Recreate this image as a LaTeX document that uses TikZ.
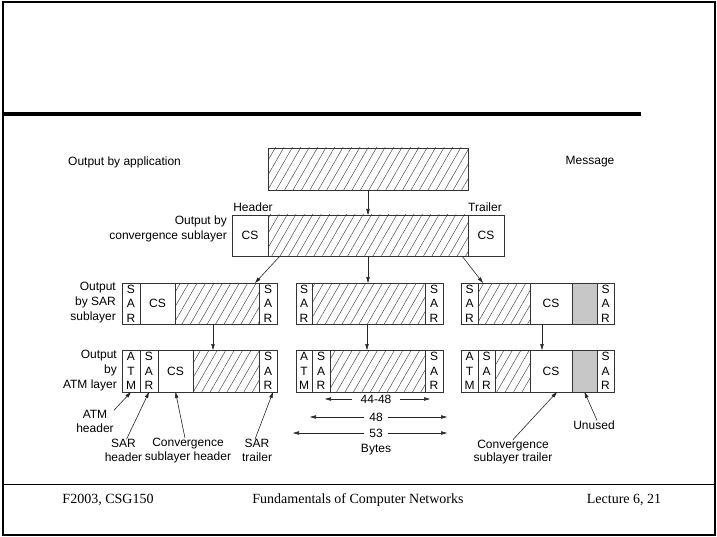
\documentclass[tikz,border=0pt]{standalone}
\usepackage{fontspec}
\setmainfont{Liberation Sans}
\newfontfamily\seriffont{Liberation Serif}
\usetikzlibrary{patterns.meta,arrows.meta}

\newcommand{\cellbox}[7]{%
  \node[cell,#6,minimum width={(#3-#2)*1pt},minimum height={(#5-#4)*1pt}] (#1) at ({(#2+#3)/2},{(#4+#5)/2}) {#7};}

\begin{document}
\begin{tikzpicture}[x=1pt,y=-1pt,
  cell/.style={draw=black!80,line width=0.7pt,inner sep=0pt,outer sep=0pt,align=center,font=\fontsize{12}{14.5}\selectfont},
  hatch/.style={pattern={Lines[angle=60,distance=7.3pt,line width=0.45pt]},pattern color=black!75},
  unused/.style={fill=black!22},
  plain/.style={},
  arr/.style={draw=black!85,line width=0.6pt,-{Triangle[length=6pt,width=3.4pt]}},
  lbl/.style={font=\fontsize{12}{13.5}\selectfont,inner sep=0pt,align=center},
  sidelbl/.style={font=\fontsize{12}{15}\selectfont,inner sep=0pt,align=right,anchor=east},
  foot/.style={font=\seriffont\fontsize{14}{16}\selectfont,inner sep=0pt}]

\useasboundingbox (0,0) rectangle (717,537);

% slide frame
\draw[line width=2pt] (3,2) rectangle (715,535);
\draw[line width=3.5pt] (3,114) -- (641,114);
\draw[line width=0.8pt] (3,484) -- (715,484);

% row 1
\cellbox{msg}{268}{468}{148}{190}{hatch}{}
% row 2
\cellbox{csh}{232}{268}{215}{256}{plain}{CS}
\cellbox{dat2}{268}{468}{215}{256}{hatch}{}
\cellbox{cst}{468}{504}{215}{256}{plain}{CS}
% row 3
\cellbox{sarL3a}{122}{140}{283}{324}{plain}{S\\A\\R}
\cellbox{csL3}{140}{175}{283}{324}{plain}{CS}
\cellbox{datL3}{175}{259}{283}{324}{hatch}{}
\cellbox{sarL3b}{259}{277}{283}{324}{plain}{S\\A\\R}
\cellbox{sarM3a}{296}{312}{283}{324}{plain}{S\\A\\R}
\cellbox{datM3}{312}{425}{283}{324}{hatch}{}
\cellbox{sarM3b}{425}{443}{283}{324}{plain}{S\\A\\R}
\cellbox{sarR3a}{461}{478}{283}{324}{plain}{S\\A\\R}
\cellbox{datR3}{478}{530}{283}{324}{hatch}{}
\cellbox{csR3}{530}{572}{283}{324}{plain}{CS}
\cellbox{unR3}{572}{597}{283}{324}{unused}{}
\cellbox{sarR3b}{597}{614}{283}{324}{plain}{S\\A\\R}
% row 4
\cellbox{atmL}{122}{140}{350}{392}{plain}{A\\T\\M}
\cellbox{sarL4a}{140}{158}{350}{392}{plain}{S\\A\\R}
\cellbox{csL4}{158}{193}{350}{392}{plain}{CS}
\cellbox{datL4}{193}{259}{350}{392}{hatch}{}
\cellbox{sarL4b}{259}{277}{350}{392}{plain}{S\\A\\R}
\cellbox{atmM}{296}{312}{350}{392}{plain}{A\\T\\M}
\cellbox{sarM4a}{312}{330}{350}{392}{plain}{S\\A\\R}
\cellbox{datM4}{330}{425}{350}{392}{hatch}{}
\cellbox{sarM4b}{425}{443}{350}{392}{plain}{S\\A\\R}
\cellbox{atmR}{461}{478}{350}{392}{plain}{A\\T\\M}
\cellbox{sarR4a}{478}{495}{350}{392}{plain}{S\\A\\R}
\cellbox{datR4}{495}{530}{350}{392}{hatch}{}
\cellbox{csR4}{530}{572}{350}{392}{plain}{CS}
\cellbox{unR4}{572}{597}{350}{392}{unused}{}
\cellbox{sarR4b}{597}{614}{350}{392}{plain}{S\\A\\R}

% vertical flow arrows
\draw[arr] (msg.south) -- (dat2.north);
\draw[arr] ([xshift=12pt]dat2.south west) -- ([xshift=-4pt]datL3.north east);
\draw[arr] (dat2.south) -- ([xshift=56pt]datM3.north west);
\draw[arr] ([xshift=-6pt]dat2.south east) -- ([xshift=5pt]datR3.north west);
\draw[arr] ([xshift=38pt]datL3.south west) -- ([xshift=20pt]datL4.north west);
\draw[arr] ([xshift=55pt]datM3.south west) -- ([xshift=37pt]datM4.north west);
\draw[arr] ([xshift=12pt]csR3.south west) -- ([xshift=12pt]csR4.north west);

% labels
\node[lbl,anchor=west] (app) at (68,162) {Output by application};
\node[lbl] (msglbl) at (590,162) {Message};
\node[lbl] (hdr) at (253,207) {Header};
\node[lbl] (trl) at (485,207) {Trailer};
\node[sidelbl] (cslbl) at (227,228.5) {Output by\\convergence sublayer};
\node[sidelbl] (sarlbl) at (116,303) {Output\\by SAR\\sublayer};
\node[sidelbl] (atmlbl) at (117,371) {Output\\by\hspace*{7pt}\\ATM layer};

\node[lbl] (atmhdr) at (95,421.5) {ATM\\header};
\node[lbl] (sarhdr) at (123.5,450.5) {SAR\\header};
\node[lbl] (convhdr) at (188,450.5) {Convergence\\sublayer header};
\node[lbl] (sartrl) at (257,450.5) {SAR\\trailer};
\node[lbl] (convtrl) at (513,452) {Convergence\\sublayer trailer};
\node[lbl] (unusedlbl) at (594,425) {Unused};

\draw[arr] (atmhdr.north east) -- (atmL.south);
\draw[arr] ([xshift=3pt]sarhdr.north) -- (sarL4a.south);
\draw[arr] ([xshift=-3pt]convhdr.north) -- (csL4.south);
\draw[arr] ([xshift=-2pt]sartrl.north) -- ([xshift=5pt]sarL4b.south);
\draw[arr] (convtrl.north) -- ([xshift=6pt]csR4.south);
\draw[arr] ([xshift=3pt]unusedlbl.north) -- (unR4.south);

% byte dimensions
\node[lbl,inner xsep=8pt] (d1) at (376,399) {44-48};
\node[lbl,inner xsep=5pt] (d2) at (376,417) {48};
\node[lbl,inner xsep=5pt] (d3) at (376,433) {53};
\node[lbl] (bytes) at (376,450) {Bytes};
\coordinate (d1l) at (325,399);
\coordinate (d1r) at (430,399);
\coordinate (d2l) at (310,417);
\coordinate (d2r) at (447,417);
\coordinate (d3l) at (293,433);
\coordinate (d3r) at (447,433);
\draw[arr] (d1.west) -- (d1l);
\draw[arr] (d1.east) -- (d1r);
\draw[arr] (d2.west) -- (d2l);
\draw[arr] (d2.east) -- (d2r);
\draw[arr] (d3.west) -- (d3l);
\draw[arr] (d3.east) -- (d3r);

% footer
\node[foot] (f1) at (108,500) {F2003, CSG150};
\node[foot] (f2) at (358,500) {Fundamentals of Computer Networks};
\node[foot] (f3) at (624,500) {Lecture 6, 21};
\end{tikzpicture}
\end{document}
